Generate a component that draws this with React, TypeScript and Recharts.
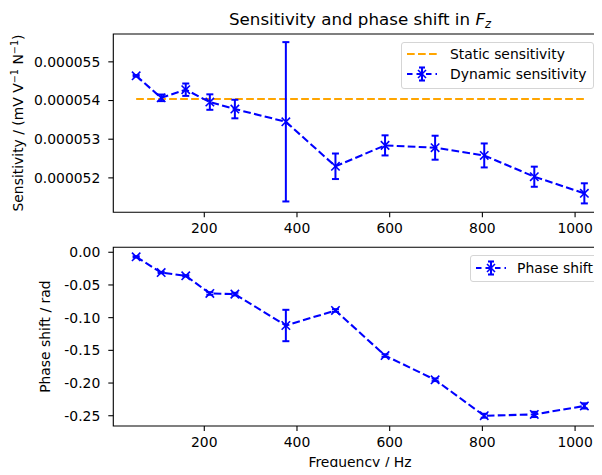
import React from 'react';
import { LineChart, Line, XAxis, YAxis, ErrorBar, ReferenceLine, ReferenceArea, Legend } from 'recharts';

// ---- data ----
const frequencies = [53, 107, 160, 212, 266, 376, 483, 590, 698, 804, 912, 1020];
const dynamicSensitivity = [
  5.464e-5, 5.407e-5, 5.428e-5, 5.396e-5, 5.378e-5, 5.345e-5,
  5.230e-5, 5.284e-5, 5.278e-5, 5.258e-5, 5.203e-5, 5.160e-5,
];
const sensitivityError = [
  0.02e-6, 0.085e-6, 0.16e-6, 0.2e-6, 0.24e-6, 2.06e-6,
  0.33e-6, 0.26e-6, 0.31e-6, 0.31e-6, 0.26e-6, 0.26e-6,
];
const staticSensitivity = 5.404e-5;
const phaseShift = [-0.007, -0.031, -0.036, -0.063, -0.064, -0.112, -0.089, -0.158, -0.195, -0.25, -0.248, -0.235];
const phaseError = [0.001, 0.001, 0.001, 0.002, 0.002, 0.024, 0.002, 0.002, 0.002, 0.003, 0.004, 0.004];

const xTicks = [200, 400, 600, 800, 1000];
const sensTicks = [0.000052, 0.000053, 0.000054, 0.000055];
const phaseTicks = [-0.25, -0.2, -0.15, -0.1, -0.05, 0];

const titleText = 'Sensitivity and phase shift in ';
const xLabel = 'Frequency / Hz';
const phaseLabel = 'Phase shift / rad';
const staticName = 'Static sensitivity';
const dynamicName = 'Dynamic sensitivity';
const phaseName = 'Phase shift';

// ---- styling ----
const FONT = '"DejaVu Sans", sans-serif';
const BLUE = '#0000ff';
const ORANGE = '#ffa500';
const LW = 2.08;
const DASH = '7.7 3.3';
const XDOMAIN: [number, number] = [3.7, 1068];
const SENS_DOMAIN: [number, number] = [0.00005111, 0.00005572];
const PHASE_DOMAIN: [number, number] = [-0.2657, 0.0076];

const topData = frequencies.map((f, i) => ({ f, s: dynamicSensitivity[i], e: sensitivityError[i] }));
const botData = frequencies.map((f, i) => ({ f, p: phaseShift[i], e: phaseError[i] }));

const tickStyle = { fill: '#000', fontSize: 13.9, fontFamily: FONT };

const XMark = (props: any) => {
  const { cx, cy, index } = props;
  if (cx == null || cy == null) return <g key={`m${index}`} />;
  const r = 4.2;
  return (
    <g key={`m${index}`}>
      <line x1={cx - r} y1={cy - r} x2={cx + r} y2={cy + r} stroke={BLUE} strokeWidth={1.6} />
      <line x1={cx - r} y1={cy + r} x2={cx + r} y2={cy - r} stroke={BLUE} strokeWidth={1.6} />
    </g>
  );
};

const DynHandle = () => (
  <svg width={30} height={16} style={{ display: 'block' }}>
    <line x1={0} y1={8} x2={30} y2={8} stroke={BLUE} strokeWidth={LW} strokeDasharray="5.5 4" />
    <line x1={15} y1={1.5} x2={15} y2={14.5} stroke={BLUE} strokeWidth={LW} />
    <line x1={12} y1={1.5} x2={18} y2={1.5} stroke={BLUE} strokeWidth={LW} />
    <line x1={12} y1={14.5} x2={18} y2={14.5} stroke={BLUE} strokeWidth={LW} />
    <line x1={11} y1={4} x2={19} y2={12} stroke={BLUE} strokeWidth={1.6} />
    <line x1={11} y1={12} x2={19} y2={4} stroke={BLUE} strokeWidth={1.6} />
  </svg>
);

const StaticHandle = () => (
  <svg width={30} height={16} style={{ display: 'block' }}>
    <line x1={0} y1={8} x2={30} y2={8} stroke={ORANGE} strokeWidth={LW} strokeDasharray="7.7 3.3" />
  </svg>
);

const legendBox: React.CSSProperties = {
  position: 'relative',
  boxSizing: 'border-box',
  border: '1px solid #d5d5d5',
  borderRadius: 3,
  background: 'rgba(255,255,255,0.8)',
  fontFamily: FONT,
  fontSize: 13.9,
  color: '#000',
};

const Row = ({ top, handleLeft, textLeft, handle, text }: any) => (
  <div style={{ position: 'absolute', top: top - 8, left: 0, right: 0, height: 16 }}>
    <div style={{ position: 'absolute', left: handleLeft, top: 0 }}>{handle}</div>
    <div style={{ position: 'absolute', left: textLeft, top: 0, lineHeight: '16px', whiteSpace: 'nowrap' }}>{text}</div>
  </div>
);

const TopLegend = () => (
  <div style={{ ...legendBox, width: 193, height: 47.6 }}>
    <Row top={11.6} handleLeft={5} textLeft={48} handle={<StaticHandle />} text={staticName} />
    <Row top={31.6} handleLeft={5} textLeft={48} handle={<DynHandle />} text={dynamicName} />
  </div>
);

const BotLegend = () => (
  <div style={{ ...legendBox, width: 129.3, height: 26.7 }}>
    <Row top={12.3} handleLeft={5} textLeft={46} handle={<DynHandle />} text={phaseName} />
  </div>
);

const SensLabel = () => (
  <text transform="translate(22.5, 123) rotate(-90)" textAnchor="middle" fontFamily={FONT} fontSize={13.9} fill="#000">
    <tspan>Sensitivity / (mV V</tspan>
    <tspan dy={-5} fontSize={9.7}>−1</tspan>
    <tspan dy={5}> N</tspan>
    <tspan dy={-5} fontSize={9.7}>−1</tspan>
    <tspan dy={5}>)</tspan>
  </text>
);

const PhaseLabel = () => (
  <text transform="translate(49.5, 96.6) rotate(-90)" textAnchor="middle" fontFamily={FONT} fontSize={13.9} fill="#000">
    {phaseLabel}
  </text>
);

const FreqLabel = () => (
  <text x={360} y={227} textAnchor="middle" fontFamily={FONT} fontSize={13.9} fill="#000">
    {xLabel}
  </text>
);

export default function App() {
  return (
    <div style={{ position: 'relative', width: 602, height: 475, margin: -8, overflow: 'hidden', background: '#fff', fontFamily: FONT }}>
      <div
        style={{
          position: 'absolute',
          left: 160,
          width: 400,
          top: 9,
          textAlign: 'center',
          fontSize: 16.7,
          lineHeight: '20px',
          color: '#000',
          whiteSpace: 'nowrap',
        }}
      >
        {titleText}
        <span style={{ fontStyle: 'italic' }}>F</span>
        <span style={{ fontStyle: 'italic', fontSize: 11.5, position: 'relative', top: 3 }}>z</span>
      </div>

      <div style={{ position: 'absolute', left: 0, top: 0 }}>
        <LineChart width={620} height={240} data={topData} margin={{ top: 34, right: 13.4, bottom: 7.7, left: 53.3 }}>
          <ReferenceArea x1={XDOMAIN[0]} x2={XDOMAIN[1]} y1={SENS_DOMAIN[0]} y2={SENS_DOMAIN[1]} fill="none" stroke="#000" strokeWidth={1.1} />
          <XAxis
            dataKey="f"
            type="number"
            domain={XDOMAIN}
            allowDataOverflow
            ticks={xTicks}
            interval={0}
            height={20}
            axisLine={false}
            tickLine={{ stroke: '#000', strokeWidth: 1.1 }}
            tickSize={5}
            tickMargin={6}
            tick={tickStyle}
          />
          <YAxis
            type="number"
            domain={SENS_DOMAIN}
            allowDataOverflow
            ticks={sensTicks}
            interval={0}
            width={60}
            axisLine={false}
            tickLine={{ stroke: '#000', strokeWidth: 1.1 }}
            tickSize={5}
            tickMargin={8}
            tick={tickStyle}
            tickFormatter={(v: number) => v.toFixed(6)}
            label={() => <SensLabel />}
          />
          <ReferenceLine
            segment={[
              { x: frequencies[0], y: staticSensitivity },
              { x: frequencies[frequencies.length - 1], y: staticSensitivity },
            ]}
            stroke={ORANGE}
            strokeWidth={LW}
            strokeDasharray={DASH}
          />
          <Line
            dataKey="s"
            stroke={BLUE}
            strokeWidth={LW}
            strokeDasharray={DASH}
            dot={XMark}
            activeDot={false}
            isAnimationActive={false}
          >
            <ErrorBar dataKey="e" width={3.5} stroke={BLUE} strokeWidth={2} direction="y" isAnimationActive={false} />
          </Line>
          <Legend
            layout="horizontal"
            verticalAlign="middle"
            align="center"
            content={() => <TopLegend />}
            wrapperStyle={{ position: 'absolute', left: 401, top: 41.7, width: 193, height: 47.6 }}
          />
        </LineChart>
      </div>

      <div style={{ position: 'absolute', left: 0, top: 240 }}>
        <LineChart width={620} height={235} data={botData} margin={{ top: 7.3, right: 13.4, bottom: 9, left: 53.3 }}>
          <ReferenceArea x1={XDOMAIN[0]} x2={XDOMAIN[1]} y1={PHASE_DOMAIN[0]} y2={PHASE_DOMAIN[1]} fill="none" stroke="#000" strokeWidth={1.1} />
          <XAxis
            dataKey="f"
            type="number"
            domain={XDOMAIN}
            allowDataOverflow
            ticks={xTicks}
            interval={0}
            height={40}
            axisLine={false}
            tickLine={{ stroke: '#000', strokeWidth: 1.1 }}
            tickSize={5}
            tickMargin={6}
            tick={tickStyle}
            label={() => <FreqLabel />}
          />
          <YAxis
            type="number"
            domain={PHASE_DOMAIN}
            allowDataOverflow
            ticks={phaseTicks}
            interval={0}
            width={60}
            axisLine={false}
            tickLine={{ stroke: '#000', strokeWidth: 1.1 }}
            tickSize={5}
            tickMargin={8}
            tick={tickStyle}
            tickFormatter={(v: number) => v.toFixed(2)}
            label={() => <PhaseLabel />}
          />
          <Line
            dataKey="p"
            stroke={BLUE}
            strokeWidth={LW}
            strokeDasharray={DASH}
            dot={XMark}
            activeDot={false}
            isAnimationActive={false}
          >
            <ErrorBar dataKey="e" width={3.5} stroke={BLUE} strokeWidth={2} direction="y" isAnimationActive={false} />
          </Line>
          <Legend
            layout="horizontal"
            verticalAlign="middle"
            align="center"
            content={() => <BotLegend />}
            wrapperStyle={{ position: 'absolute', left: 470, top: 15, width: 129.3, height: 26.7 }}
          />
        </LineChart>
      </div>
    </div>
  );
}
